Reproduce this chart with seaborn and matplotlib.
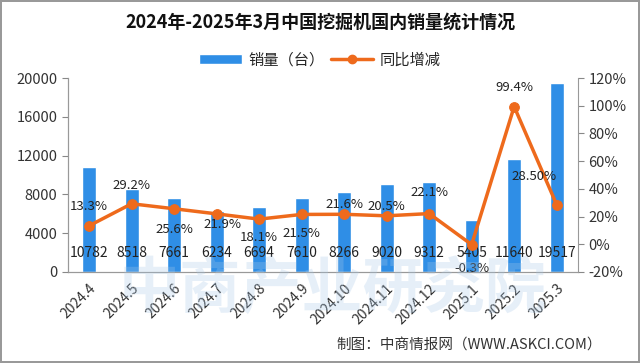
import numpy as np
import pandas as pd
import matplotlib
matplotlib.use('Agg')
import matplotlib.pyplot as plt
import seaborn as sns
from matplotlib.patches import Patch
from matplotlib.lines import Line2D

months = ['2024.4', '2024.5', '2024.6', '2024.7', '2024.8', '2024.9', '2024.10',
          '2024.11', '2024.12', '2025.1', '2025.2', '2025.3']
sales = [10782, 8518, 7661, 6234, 6694, 7610, 8266, 9020, 9312, 5405, 11640, 19517]
growth = [13.3, 29.2, 25.6, 21.9, 18.1, 21.5, 21.6, 20.5, 22.1, -0.3, 99.4, 28.5]
growth_labels = ['13.3%', '29.2%', '25.6%', '21.9%', '18.1%', '21.5%', '21.6%',
                 '20.5%', '22.1%', '-0.3%', '99.4%', '28.50%']

sns.set_style('white')
plt.rcParams['font.family'] = ['Noto Sans CJK SC', 'DejaVu Sans']

bar_color = '#2f8ee6'
line_color = '#ee6a1c'

df = pd.DataFrame({'month': months, 'sales': sales, 'growth': growth})

fig = plt.figure(figsize=(6.4, 3.63), dpi=100)
fig.patch.set_edgecolor('#999999')
fig.patch.set_linewidth(1.5)
ax = fig.add_axes([0.106, 0.251, 0.797, 0.534])

# faint watermark
fig.text(0.52, 0.2, '中商产业研究院', fontsize=44, color='#a8c8e8', alpha=0.28,
         ha='center', va='center', fontweight='bold', zorder=0)

sns.barplot(data=df, x='month', y='sales', color=bar_color, width=0.33,
            saturation=1, ax=ax, zorder=2)
ax.set_ylim(0, 20000)
ax.set_xlim(-0.5, 11.5)
ax.set_yticks(range(0, 20001, 4000))
ax.set_ylabel('')
ax.set_xlabel('')
for i, v in enumerate(sales):
    ax.text(i, 1900, str(v), ha='center', va='center', fontsize=10,
            color='#222222', zorder=5)

ax2 = ax.twinx()
sns.lineplot(x=np.arange(len(months)), y=growth, color=line_color, linewidth=2.5,
             marker='o', markersize=7, markeredgecolor=line_color, ax=ax2, zorder=4)
ax2.set_ylim(-20, 120)
ax2.set_yticks(range(-20, 121, 20))
ax2.set_yticklabels([f'{t}%' for t in range(-20, 121, 20)])
ax2.set_xlim(-0.5, 11.5)

offsets = [(0, 14), (0, 13), (0, -15), (4, -8), (0, -13), (0, -14),
           (0, 7), (0, 7), (0, 15), (0, -17), (0, 14), (-16, 20)]
for i, (g, lab) in enumerate(zip(growth, growth_labels)):
    ax2.annotate(lab, (i, g), xytext=offsets[i], textcoords='offset points',
                 ha='center', va='center', fontsize=9.5, color='#222222', zorder=6)

# x ticks between categories, labels at centres
ax.set_xticks(np.arange(-0.5, 12, 1))
ax.set_xticklabels([])
ax.set_xticks(np.arange(12), minor=True)
ax.set_xticklabels(months, minor=True, rotation=45, ha='right',
                   rotation_mode='anchor', fontsize=10, color='#333333')
ax.tick_params(axis='x', which='minor', length=0, pad=7)
ax.tick_params(axis='x', which='major', length=4, color='#888888', direction='out')
ax.tick_params(axis='y', length=4, color='#888888', direction='out',
               labelsize=10.5, labelcolor='#333333')
ax2.tick_params(axis='y', length=4, color='#888888', direction='out',
                labelsize=10.5, labelcolor='#333333')
ax2.set_ylabel('')

for a in (ax, ax2):
    a.spines['top'].set_visible(False)
    for s in ('left', 'right', 'bottom'):
        a.spines[s].set_color('#999999')
ax.spines['right'].set_visible(False)
ax.grid(False)
ax2.grid(False)

handles = [Patch(facecolor=bar_color, label='销量（台）'),
           Line2D([0], [0], color=line_color, lw=2.5, marker='o', markersize=6,
                  label='同比增减')]
fig.legend(handles=handles, loc='center', bbox_to_anchor=(0.5, 0.835), ncol=2,
           frameon=False, fontsize=11, handlelength=2.8, columnspacing=0.4,
           handletextpad=0.4)

fig.text(0.5, 0.94, '2024年-2025年3月中国挖掘机国内销量统计情况', ha='center',
         va='center', fontsize=13, fontweight='bold', color='#111111')
fig.text(0.94, 0.05, '制图：中商情报网（WWW.ASKCI.COM）', ha='right', va='center',
         fontsize=10.5, color='#333333')

fig.savefig('out.png', dpi=100)
